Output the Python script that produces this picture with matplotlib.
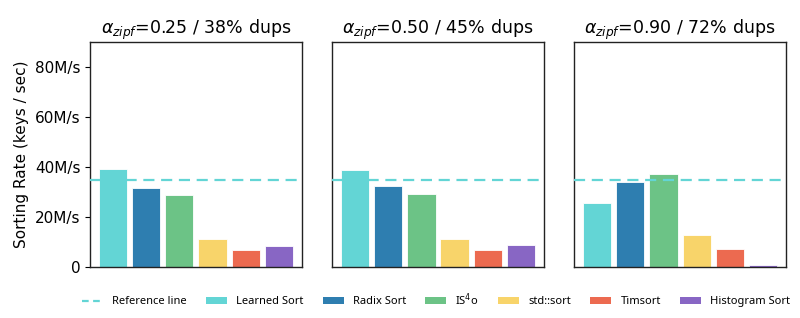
import matplotlib
matplotlib.use("Agg")
import matplotlib.pyplot as plt
from matplotlib.patches import Patch
from matplotlib.lines import Line2D

methods = ["Learned Sort", "Radix Sort", "IS$^4$o", "std::sort", "Timsort", "Histogram Sort"]
colors = ["#63d5d5", "#2e7eb0", "#6cc386", "#f8d46a", "#ec6a50", "#8866c4"]
titles = [r"$\alpha_{zipf}$=0.25 / 38% dups",
          r"$\alpha_{zipf}$=0.50 / 45% dups",
          r"$\alpha_{zipf}$=0.90 / 72% dups"]
rates_025 = [39.1, 31.5, 28.8, 11.1, 6.7, 8.5]
rates_050 = [38.8, 32.3, 29.2, 11.2, 6.7, 8.7]
rates_090 = [25.6, 34.0, 37.2, 12.9, 7.2, 0.7]
reference = 35.0
yticks = [0, 20, 40, 60, 80]
ytick_labels = ["0", "20M/s", "40M/s", "60M/s", "80M/s"]

series = [rates_025, rates_050, rates_090]

fig, axes = plt.subplots(1, 3, figsize=(8, 3.18), dpi=100)
fig.subplots_adjust(left=0.1125, right=0.9825, top=0.868, bottom=0.160, wspace=0.142)

x = list(range(len(methods)))
for i, ax in enumerate(axes):
    ax.bar(x, series[i], width=0.85, color=colors, edgecolor="white", linewidth=0.6, zorder=2)
    ax.axhline(reference, color="#63d5d5", linestyle=(0, (5, 3)), linewidth=1.6, zorder=3)
    ax.set_xlim(-0.7, 5.7)
    ax.set_ylim(0, 90)
    ax.set_xticks([])
    ax.set_title(titles[i], fontsize=12.5, pad=6)
    for s in ax.spines.values():
        s.set_color("#222222")
        s.set_linewidth(1.0)
    if i == 0:
        ax.set_yticks(yticks)
        ax.set_yticklabels(ytick_labels, fontsize=11)
        ax.set_ylabel("Sorting Rate (keys / sec)", fontsize=11)
    else:
        ax.set_yticks([])

handles = [Line2D([0], [0], color="#63d5d5", linestyle=(0, (3, 2)), linewidth=1.6)]
labels = ["Reference line"]
for m, c in zip(methods, colors):
    handles.append(Patch(facecolor=c, edgecolor="none"))
    labels.append(m)
fig.legend(handles, labels, loc="center", ncol=7, frameon=False,
           bbox_to_anchor=(0.545, 0.058), prop={"family": "Noto Sans", "size": 8},
           handlelength=1.9, handleheight=0.7, columnspacing=1.75, handletextpad=0.8)

fig.savefig("out.png", dpi=100)
